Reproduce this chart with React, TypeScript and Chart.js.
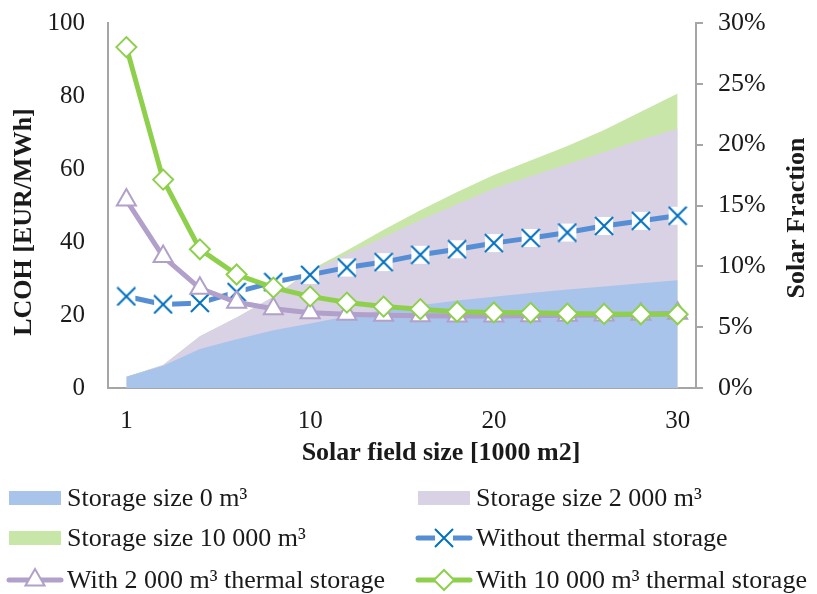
import React, { useEffect, useRef } from 'react';
import { Chart, registerables } from 'chart.js';
import { drawPoint } from 'chart.js/helpers';

Chart.register(...registerables);

// ---- data ----
const fieldSizes = ['1', '2', '4', '6', '8', '10', '12', '14', '16', '18', '20', '22', '24', '26', '28', '30'];
const shownTicks = ['1', '10', '20', '30'];

// Solar fraction [%] (right axis)
const sfStorage0 = [0.93, 1.83, 3.2, 4.0, 4.75, 5.3, 5.9, 6.4, 6.8, 7.2, 7.5, 7.8, 8.1, 8.35, 8.6, 8.85];
const sfStorage2000 = [0.93, 1.9, 4.25, 5.8, 7.5, 9.6, 11.0, 12.4, 13.8, 15.1, 16.4, 17.4, 18.4, 19.4, 20.4, 21.3];
const sfStorage10000 = [0.93, 1.9, 4.25, 5.8, 7.5, 9.7, 11.3, 13.0, 14.6, 16.1, 17.5, 18.7, 19.9, 21.2, 22.7, 24.2];

// LCOH [EUR/MWh] (left axis)
const lcohNoStorage = [25.1, 22.9, 23.3, 26.3, 29.0, 31.0, 33.0, 34.5, 36.5, 38.0, 39.7, 41.1, 42.6, 44.4, 45.8, 47.2];
const lcoh2000 = [51.5, 36.0, 27.3, 23.5, 21.7, 20.6, 20.2, 19.9, 19.8, 19.7, 19.7, 19.8, 19.9, 20.0, 20.2, 20.5];
const lcoh10000 = [93.4, 57.1, 38.0, 31.1, 27.5, 25.1, 23.4, 22.3, 21.6, 20.9, 20.7, 20.6, 20.4, 20.3, 20.2, 20.2];

const seriesLabels = [
  'Storage size 0 m³',
  'Storage size 2 000 m³',
  'Storage size 10 000 m³',
  'Without thermal storage',
  'With 2 000 m³ thermal storage',
  'With 10 000 m³ thermal storage',
];

const xTitle = 'Solar field size [1000 m2]';
const yLeftTitle = 'LCOH [EUR/MWh]';
const yRightTitle = 'Solar Fraction';

const FONT = '"Liberation Serif", "Times New Roman", serif';
const AXIS_GRAY = '#A6A6A6';
const TEXT = '#1a1a1a';

function makeXMarker(): HTMLCanvasElement {
  const c = document.createElement('canvas');
  c.width = 20;
  c.height = 20;
  const g = c.getContext('2d')!;
  g.fillStyle = '#ffffff';
  g.fillRect(1, 1, 18, 18);
  g.strokeStyle = '#0070C0';
  g.lineWidth = 2;
  g.beginPath();
  g.moveTo(1, 1);
  g.lineTo(19, 19);
  g.moveTo(19, 1);
  g.lineTo(1, 19);
  g.stroke();
  return c;
}

const decorPlugin = {
  id: 'decor',
  afterDraw(chart: any) {
    const ctx: CanvasRenderingContext2D = chart.ctx;
    ctx.save();
    ctx.fillStyle = TEXT;
    ctx.font = `bold 26px ${FONT}`;
    ctx.textAlign = 'center';
    ctx.textBaseline = 'middle';
    ctx.fillText(xTitle, 441, 453);
    ctx.save();
    ctx.translate(24, 222);
    ctx.rotate(-Math.PI / 2);
    ctx.fillText(yLeftTitle, 0, 0);
    ctx.restore();
    ctx.save();
    ctx.translate(797, 218);
    ctx.rotate(-Math.PI / 2);
    ctx.fillText(yRightTitle, 0, 0);
    ctx.restore();

    // legend (2 columns x 3 rows)
    const slots = [
      { x: 9, y: 498 },
      { x: 418, y: 498 },
      { x: 9, y: 538 },
      { x: 418, y: 538 },
      { x: 9, y: 580 },
      { x: 418, y: 580 },
    ];
    const boxW = 52;
    chart.data.datasets.forEach((ds: any, i: number) => {
      const s = slots[i];
      if (!s) return;
      if (ds.fill) {
        ctx.fillStyle = ds.backgroundColor;
        ctx.fillRect(s.x, s.y - 7, boxW, 14);
      } else {
        ctx.save();
        ctx.strokeStyle = ds.borderColor;
        ctx.lineWidth = ds.borderWidth;
        ctx.lineCap = 'round';
        ctx.beginPath();
        ctx.moveTo(s.x, s.y);
        ctx.lineTo(s.x + boxW, s.y);
        ctx.stroke();
        ctx.fillStyle = ds.pointBackgroundColor || '#fff';
        ctx.strokeStyle = ds.pointBorderColor || ds.borderColor;
        ctx.lineWidth = ds.pointBorderWidth || 2;
        drawPoint(ctx, {
          pointStyle: ds.pointStyle,
          radius: ds.pointRadius,
          rotation: 0,
          borderWidth: ds.pointBorderWidth || 2,
        } as any, s.x + boxW / 2, s.y);
        ctx.restore();
      }
      ctx.fillStyle = TEXT;
      ctx.font = `26px ${FONT}`;
      ctx.textAlign = 'left';
      ctx.textBaseline = 'middle';
      ctx.fillText(ds.label, s.x + boxW + 6, s.y + 1);
    });
    ctx.restore();
  },
};

export default function App() {
  const ref = useRef<HTMLCanvasElement>(null);

  useEffect(() => {
    const xMarker = makeXMarker();
    const chart = new Chart(ref.current!, {
      type: 'line',
      data: {
        labels: fieldSizes,
        datasets: [
          {
            label: seriesLabels[0],
            data: sfStorage0,
            yAxisID: 'yR',
            fill: 'origin',
            backgroundColor: '#A9C4EA',
            borderWidth: 0,
            borderColor: 'rgba(0,0,0,0)',
            pointRadius: 0,
            order: 3,
          },
          {
            label: seriesLabels[1],
            data: sfStorage2000,
            yAxisID: 'yR',
            fill: 'origin',
            backgroundColor: '#D9D1E4',
            borderWidth: 0,
            borderColor: 'rgba(0,0,0,0)',
            pointRadius: 0,
            order: 4,
          },
          {
            label: seriesLabels[2],
            data: sfStorage10000,
            yAxisID: 'yR',
            fill: 'origin',
            backgroundColor: '#C8E6A8',
            borderWidth: 0,
            borderColor: 'rgba(0,0,0,0)',
            pointRadius: 0,
            order: 5,
          },
          {
            label: seriesLabels[3],
            data: lcohNoStorage,
            yAxisID: 'yL',
            fill: false,
            borderColor: '#558ED5',
            borderWidth: 5,
            borderDash: [27, 10.3],
            borderDashOffset: 32,
            borderCapStyle: 'butt',
            pointStyle: xMarker as any,
            pointRadius: 10,
            pointBorderWidth: 2,
            pointBackgroundColor: '#ffffff',
            pointBorderColor: '#0070C0',
            order: 2,
          },
          {
            label: seriesLabels[4],
            data: lcoh2000,
            yAxisID: 'yL',
            fill: false,
            borderColor: '#B1A0C9',
            borderWidth: 5,
            pointStyle: 'triangle',
            pointRadius: 11,
            pointBorderWidth: 2,
            pointBackgroundColor: '#ffffff',
            pointBorderColor: '#B1A0C9',
            order: 1,
          },
          {
            label: seriesLabels[5],
            data: lcoh10000,
            yAxisID: 'yL',
            fill: false,
            borderColor: '#8ED04C',
            borderWidth: 5,
            pointStyle: 'rectRot',
            pointRadius: 10,
            pointBorderWidth: 2,
            pointBackgroundColor: '#ffffff',
            pointBorderColor: '#8ED04C',
            order: 0,
          },
        ] as any,
      },
      options: {
        responsive: false,
        animation: false,
        events: [],
        layout: { padding: { top: 23, left: 0, right: 0, bottom: 0 } },
        elements: { line: { tension: 0 } },
        plugins: {
          legend: { display: false },
          tooltip: { enabled: false },
        },
        scales: {
          x: {
            type: 'category',
            offset: true,
            grid: { display: false, drawTicks: false },
            border: { display: true, color: AXIS_GRAY, width: 2 },
            ticks: {
              autoSkip: false,
              maxRotation: 0,
              padding: 18,
              color: TEXT,
              font: { family: FONT, size: 25 },
              callback: (_v: any, i: number) => (shownTicks.includes(fieldSizes[i]) ? fieldSizes[i] : ''),
            },
            afterFit: (s: any) => {
              s.height = 206;
              s.paddingLeft = 0;
              s.paddingRight = 0;
            },
          },
          yL: {
            type: 'linear',
            position: 'left',
            min: 0,
            max: 100,
            grid: { display: false, drawTicks: false },
            border: { display: true, color: AXIS_GRAY, width: 2 },
            ticks: {
              stepSize: 20,
              padding: 23,
              color: TEXT,
              font: { family: FONT, size: 25 },
            },
            afterFit: (s: any) => {
              s.width = 108;
              s.paddingTop = 0;
              s.paddingBottom = 0;
            },
          },
          yR: {
            type: 'linear',
            position: 'right',
            min: 0,
            max: 30,
            grid: {
              display: true,
              drawOnChartArea: false,
              drawTicks: true,
              tickLength: 7,
              color: AXIS_GRAY,
              lineWidth: 2,
            },
            border: { display: true, color: AXIS_GRAY, width: 2 },
            ticks: {
              stepSize: 5,
              padding: 15,
              color: TEXT,
              font: { family: FONT, size: 26 },
              callback: (v: any) => `${v}%`,
            },
            afterFit: (s: any) => {
              s.width = 121;
              s.paddingTop = 0;
              s.paddingBottom = 0;
            },
          },
        },
      } as any,
      plugins: [decorPlugin],
    });
    return () => chart.destroy();
  }, []);

  return (
    <div style={{ position: 'fixed', left: 0, top: 0, width: 817, height: 594, background: '#ffffff' }}>
      <canvas ref={ref} width={817} height={594} style={{ display: 'block' }} />
    </div>
  );
}
